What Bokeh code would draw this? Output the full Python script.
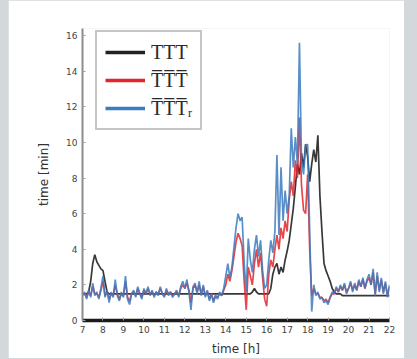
import numpy as np
from bokeh.plotting import figure
from bokeh.models import Legend, LegendItem, FixedTicker, Range1d, ColumnDataSource
from bokeh.embed import file_html
from bokeh.resources import INLINE

# ---- data ----
hours = np.round(np.arange(7.0, 22.05, 0.1), 1)

ttt = [1.5, 1.5, 1.5, 1.6, 2.2, 3.2, 3.7, 3.3, 3.1, 2.9,
       2.8, 2.2, 1.6, 1.5, 1.5, 1.5, 1.5, 1.5, 1.5, 1.5,
       1.5, 1.5, 1.5, 1.5, 1.5, 1.5, 1.5, 1.5, 1.5, 1.5,
       1.5, 1.5, 1.5, 1.5, 1.5, 1.5, 1.5, 1.5, 1.5, 1.5,
       1.5, 1.5, 1.5, 1.5, 1.5, 1.5, 1.5, 1.5, 1.5, 1.5,
       1.5, 1.5, 1.5, 1.5, 1.5, 1.5, 1.5, 1.5, 1.5, 1.5,
       1.5, 1.5, 1.5, 1.5, 1.5, 1.5, 1.5, 1.5, 1.5, 1.5,
       1.5, 1.5, 1.5, 1.5, 1.5, 1.5, 1.5, 1.5, 1.5, 1.5,
       1.5, 1.5, 1.5, 1.6, 1.8, 1.6, 1.5, 1.5, 1.5, 1.5,
       1.5, 1.5, 1.8, 2.6, 3.0, 3.2, 2.6, 3.0, 2.7, 3.4,
       3.9, 4.5, 5.4, 6.3, 7.5, 8.8, 8.2, 9.4, 8.6, 9.9,
       9.2, 7.8, 8.8, 9.6, 8.9, 10.4, 7.0, 5.0, 3.2, 2.8,
       2.5, 2.2, 1.8, 1.6, 1.5, 1.5, 1.5, 1.4, 1.4, 1.4,
       1.4, 1.4, 1.4, 1.4, 1.4, 1.4, 1.4, 1.4, 1.4, 1.4,
       1.4, 1.4, 1.4, 1.4, 1.4, 1.4, 1.4, 1.4, 1.4, 1.4,
       1.4]

ttt_hat = [1.5, 1.5, 1.3, 1.6, 1.4, 1.9, 1.5, 1.5, 1.3, 1.7,
           2.2, 1.4, 1.6, 1.2, 1.5, 1.4, 2.0, 1.5, 1.2, 1.5,
           1.4, 2.2, 1.3, 1.1, 1.5, 1.6, 1.4, 1.8, 1.5, 1.3,
           1.7, 1.5, 1.8, 1.5, 1.6, 1.4, 1.6, 1.5, 1.8, 1.5,
           1.4, 1.7, 1.5, 1.6, 1.4, 1.5, 1.6, 1.4, 1.8, 2.0,
           1.8, 2.1, 1.7, 1.0, 1.8, 2.0, 1.6, 2.0, 1.5, 1.9,
           1.4, 1.6, 1.2, 1.5, 1.1, 1.4, 1.3, 1.5, 1.4, 1.7,
           2.0, 2.6, 2.2, 2.8, 3.6, 4.4, 4.9, 4.6, 4.2, 2.2,
           0.6, 3.0, 2.5, 2.0, 3.2, 4.0, 3.0, 3.8, 2.4, 1.2,
           0.8, 2.6, 3.4, 3.0, 4.0, 4.8, 4.0, 5.2, 4.6, 5.6,
           5.0, 6.8, 7.8, 7.0, 9.0, 8.0, 11.4, 7.6, 6.2, 6.0,
           8.2, 4.0, 1.4, 1.8, 1.5, 1.5, 1.3, 1.3, 1.1, 1.2,
           1.0, 1.3, 1.5, 1.5, 1.8, 1.6, 1.9, 1.7, 2.0, 1.6,
           1.8, 2.1, 1.7, 2.0, 1.7, 2.2, 1.9, 2.3, 1.8, 2.2,
           2.4, 2.0, 2.7, 1.5, 2.5, 1.7, 2.3, 1.6, 2.1, 1.4,
           1.9]

ttt_r = [1.4, 1.6, 1.2, 1.7, 1.3, 2.1, 1.4, 1.6, 1.2, 1.8,
         2.5, 1.3, 1.7, 1.0, 1.6, 1.3, 2.3, 1.4, 1.1, 1.6,
         1.3, 2.5, 1.2, 0.9, 1.5, 1.7, 1.3, 1.9, 1.5, 1.2,
         1.8, 1.5, 1.9, 1.4, 1.7, 1.3, 1.6, 1.4, 1.9, 1.5,
         1.3, 1.8, 1.4, 1.6, 1.3, 1.5, 1.7, 1.3, 1.9, 2.2,
         1.8, 2.3, 1.6, 0.6, 1.9, 2.1, 1.5, 2.2, 1.4, 2.0,
         1.3, 1.7, 1.1, 1.5, 1.0, 1.4, 1.2, 1.6, 1.4, 1.8,
         2.5, 3.2, 2.4, 3.0, 4.1, 5.2, 6.0, 5.6, 5.8, 3.2,
         1.6, 4.6, 3.4, 2.7, 4.0, 4.8, 3.6, 4.5, 2.8, 1.8,
         2.0, 3.4, 4.5, 3.8, 5.0, 9.3, 4.8, 8.6, 5.6, 7.3,
         6.0, 7.0, 10.8, 8.6, 10.3, 8.8, 15.6, 9.0, 8.2, 9.8,
         9.9, 5.0, 0.5, 2.0, 1.4, 1.6, 1.2, 1.3, 1.0, 1.1,
         0.9, 1.3, 1.6, 1.5, 1.9, 1.6, 2.0, 1.7, 2.1, 1.5,
         1.8, 2.2, 1.6, 2.1, 1.7, 2.3, 1.9, 2.4, 1.8, 2.3,
         2.6, 2.0, 2.9, 1.4, 2.7, 1.6, 2.4, 1.5, 2.2, 1.3,
         2.0]

x_ticks = list(range(7, 23))
y_ticks = list(range(0, 17, 2))
series_labels = ["TTT", "T\u0305T\u0305T\u0305", "T\u0305T\u0305T\u0305\u1d63"]
series_colors = ["#222222", "#e3262b", "#3b7bbf"]

src = ColumnDataSource(dict(t=hours, a=ttt, b=ttt_hat, c=ttt_r))

p = figure(frame_width=307, frame_height=292,
           min_border_left=74, min_border_right=15, min_border_top=28, min_border_bottom=34,
           x_range=Range1d(7, 22), y_range=Range1d(0, 16.4),
           output_backend="svg", toolbar_location=None,
           background_fill_color="white", border_fill_color="white",
           margin=(0, 0, 0, 8))
p.outline_line_color = None
p.grid.visible = False

r1 = p.line("t", "a", source=src, color=series_colors[0], line_width=1.7, alpha=0.9)
r2 = p.line("t", "b", source=src, color=series_colors[1], line_width=1.7, alpha=0.85)
r3 = p.line("t", "c", source=src, color=series_colors[2], line_width=1.7, alpha=0.85)

# legend proxies (thicker lines as in the reference legend); NaN data, never visible in the plot
proxy_src = ColumnDataSource(dict(x=[np.nan], y=[np.nan]))
proxies = [p.line("x", "y", source=proxy_src, color=c, line_width=3.5) for c in series_colors]

legend = Legend(items=[LegendItem(label=l, renderers=[r]) for l, r in zip(series_labels, proxies)],
                location=(13, 190), orientation="vertical",
                glyph_width=40, glyph_height=24, label_height=24, label_standoff=6,
                spacing=4, padding=8, margin=0,
                label_text_font="Liberation Serif", label_text_font_size="20px",
                label_text_color="#2a2a2a",
                border_line_color="#8c8c8c", border_line_width=2.5,
                background_fill_color="white", background_fill_alpha=1.0)
p.add_layout(legend, "center")

for ax in (p.xaxis[0], p.yaxis[0]):
    ax.major_label_text_font = "DejaVu Sans"
    ax.major_label_text_font_size = "9px"
    ax.major_label_text_color = "#444444"
    ax.axis_label_text_font = "DejaVu Sans"
    ax.axis_label_text_font_size = "12px"
    ax.axis_label_text_font_style = "normal"
    ax.axis_label_text_color = "#333333"
    ax.major_tick_in = 3
    ax.major_tick_out = 0
    ax.minor_tick_line_color = None
    ax.major_tick_line_color = "#a0a0a0"

p.xaxis.ticker = FixedTicker(ticks=x_ticks)
p.yaxis.ticker = FixedTicker(ticks=y_ticks)
p.xaxis.axis_label = "time [h]"
p.yaxis.axis_label = "time [min]"
p.xaxis.axis_line_color = "#1a1a1a"
p.xaxis.axis_line_width = 3.5
p.yaxis.axis_line_color = "#8c8c8c"
p.yaxis.axis_line_width = 2
p.xaxis.major_label_standoff = 5
p.yaxis.major_label_standoff = 5
p.xaxis.axis_label_standoff = 6
p.yaxis.axis_label_standoff = 12

html = file_html(p, INLINE)
html = html.replace("</head>", "<style>html,body{background:#d3d8db;overflow:hidden;}</style></head>", 1)
open("out.html", "w").write(html)
